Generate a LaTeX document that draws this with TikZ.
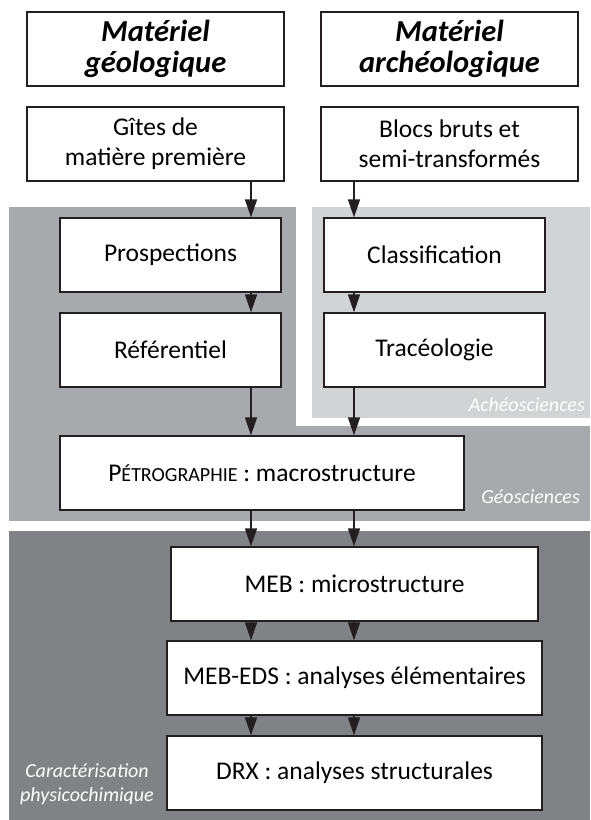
\documentclass[tikz,border=0pt]{standalone}
\usepackage{fontspec}
\setmainfont{Carlito}
\usepackage{tikz}
\usetikzlibrary{arrows.meta, positioning}
\definecolor{geogray}{HTML}{A7A9AC}
\definecolor{archgray}{HTML}{D1D3D4}
\definecolor{physgray}{HTML}{808285}
\definecolor{boxline}{HTML}{231F20}

\begin{document}
\begin{tikzpicture}[
  x=1pt, y=-1pt,
  >={Triangle[length=18pt, width=12pt]},
  every node/.style={font=\fontsize{25.5}{30}\selectfont},
  procbox/.style={draw=boxline, line width=1.3pt, fill=white, minimum height=74pt, inner sep=0pt, align=center},
  titlebox/.style={procbox, font=\fontsize{30.5}{31}\selectfont\bfseries\itshape},
  zonelabel/.style={text=white, font=\fontsize{20}{24}\selectfont\itshape, inner sep=0pt, align=center},
  flow/.style={->, line width=1.4pt, draw=boxline}
]
\useasboundingbox (0,0) rectangle (590,820);
% Geosciences area, with the archaeosciences corner cut out
\fill[geogray] (9,207) rectangle (590,521);
\fill[white] (296,207) rectangle (590,426);
\fill[archgray] (312,207) rectangle (590,418);
% Physico-chemical area
\fill[physgray] (9,531) rectangle (590,820);

% Zone labels
\node[zonelabel, anchor=base east] (archlabel) at (585,411) {Achéosciences};
\node[zonelabel, anchor=base east] (geolabel) at (580,503) {Géosciences};
\node[zonelabel] (physlabel) at (87,784) {Caractérisation\\physicochimique};

% Two columns of arrows
\coordinate (colL) at (251,0);
\coordinate (colR) at (354,0);

% Starting material
\node[titlebox, minimum width=257pt] (geomat) at (155.5,49) {Matériel\\géologique};
\node[titlebox, minimum width=257pt] (archmat) at (449.5,49) {Matériel\\archéologique};
\node[procbox, minimum width=257pt] (gites) at (155.5,144) {Gîtes de\\matière première};
\node[procbox, minimum width=257pt] (blocs) at (449.5,144) {Blocs bruts et\\semi-transformés};

% Geosciences / archaeosciences steps
\node[procbox, minimum width=221pt] (prosp) at (170.5,255) {Prospections};
\node[procbox, minimum width=221pt] (classif) at (434.5,255) {Classification};
\node[procbox, minimum width=221pt] (refer) at (170.5,350) {Référentiel};
\node[procbox, minimum width=221pt] (traceo) at (434.5,350) {Tracéologie};
\node[procbox, minimum width=404pt] (petro) at (262,473)
  {P{\fontsize{20}{24}\selectfont ÉTROGRAPHIE} : macrostructure};

% Physico-chemical steps
\node[procbox, minimum width=367pt] (meb) at (354.5,584) {MEB : microstructure};
\node[procbox, minimum width=375pt] (mebeds) at (354.5,678) {MEB-EDS : analyses élémentaires};
\node[procbox, minimum width=375pt] (drx) at (354.5,773) {DRX : analyses structurales};

% Connectors
\draw[flow] (gites.south -| colL) -- (prosp.north -| colL);
\draw[flow] (blocs.south -| colR) -- (classif.north -| colR);
\draw[flow] (prosp.south -| colL) -- (refer.north -| colL);
\draw[flow] (classif.south -| colR) -- (traceo.north -| colR);
\draw[flow] (refer.south -| colL) -- (petro.north -| colL);
\draw[flow] (traceo.south -| colR) -- (petro.north -| colR);
\foreach \a/\b in {petro/meb, meb/mebeds, mebeds/drx} {
  \draw[flow] (\a.south -| colL) -- (\b.north -| colL);
  \draw[flow] (\a.south -| colR) -- (\b.north -| colR);
}

\end{tikzpicture}
\end{document}
